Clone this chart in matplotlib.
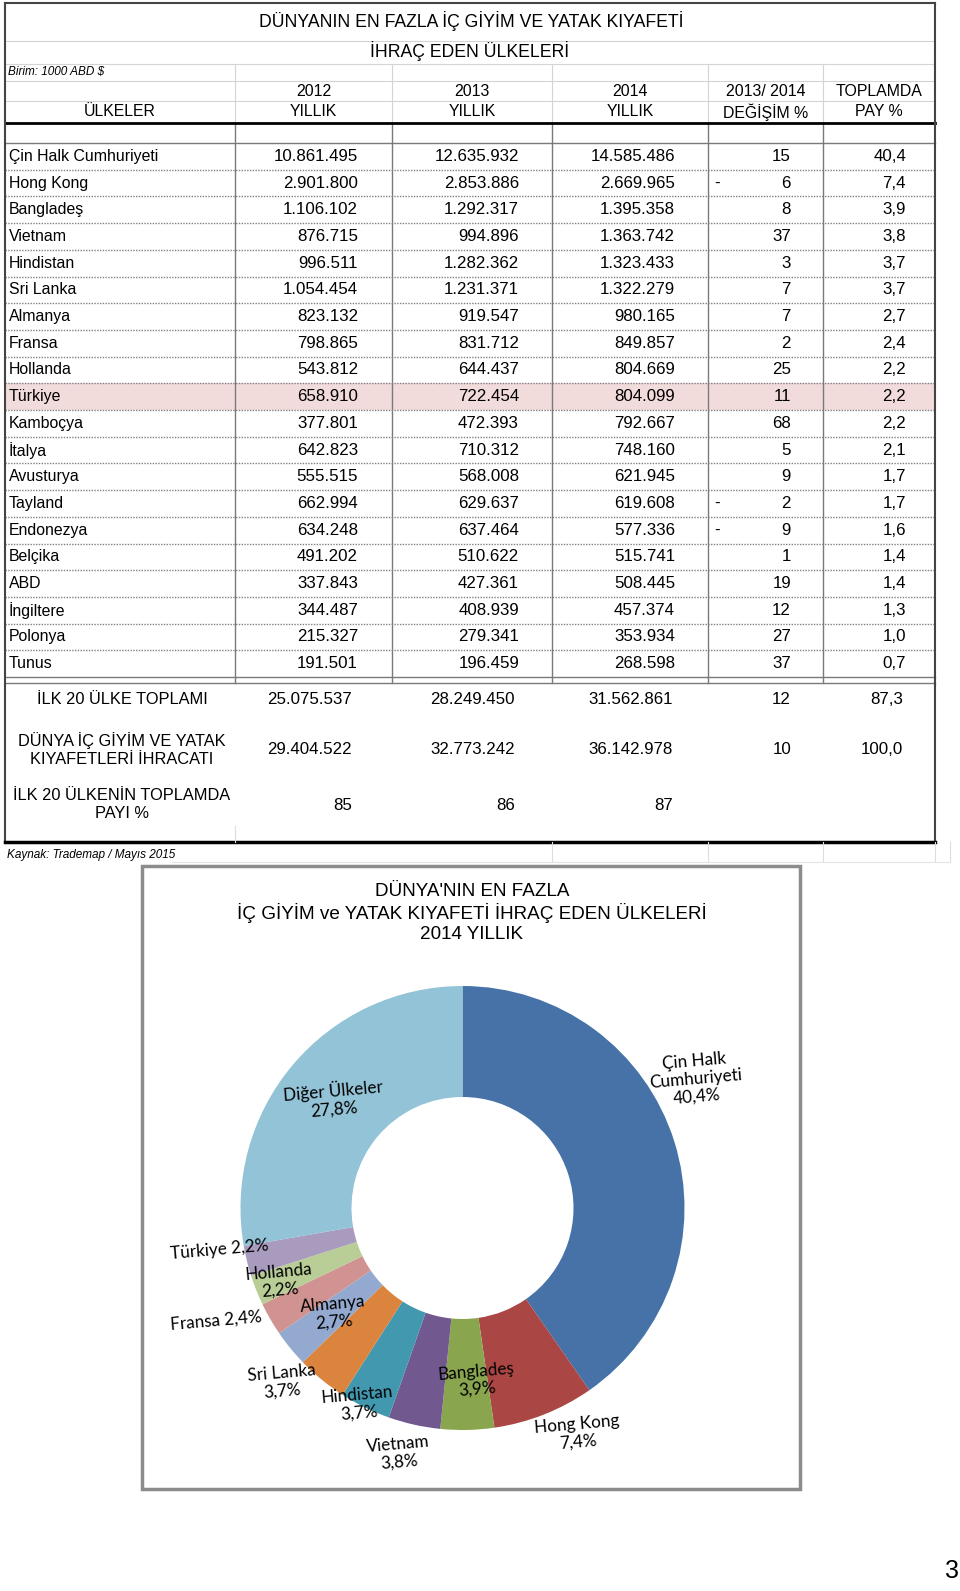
import matplotlib.pyplot as plt
from matplotlib.patches import Rectangle
import numpy as np

plt.rcParams['font.family'] = ['Liberation Sans', 'DejaVu Sans']

# table data (1000 USD)
countries = ['Çin Halk Cumhuriyeti', 'Hong Kong', 'Bangladeş', 'Vietnam', 'Hindistan',
             'Sri Lanka', 'Almanya', 'Fransa', 'Hollanda', 'Türkiye', 'Kamboçya',
             'İtalya', 'Avusturya', 'Tayland', 'Endonezya', 'Belçika', 'ABD',
             'İngiltere', 'Polonya', 'Tunus']
exp_2012 = [10861495, 2901800, 1106102, 876715, 996511, 1054454, 823132, 798865,
            543812, 658910, 377801, 642823, 555515, 662994, 634248, 491202, 337843,
            344487, 215327, 191501]
exp_2013 = [12635932, 2853886, 1292317, 994896, 1282362, 1231371, 919547, 831712,
            644437, 722454, 472393, 710312, 568008, 629637, 637464, 510622, 427361,
            408939, 279341, 196459]
exp_2014 = [14585486, 2669965, 1395358, 1363742, 1323433, 1322279, 980165, 849857,
            804669, 804099, 792667, 748160, 621945, 619608, 577336, 515741, 508445,
            457374, 353934, 268598]
change_pct = [15, -6, 8, 37, 3, 7, 7, 2, 25, 11, 68, 5, 9, -2, -9, 1, 19, 12, 27, 37]
share_pct = [40.4, 7.4, 3.9, 3.8, 3.7, 3.7, 2.7, 2.4, 2.2, 2.2, 2.2, 2.1, 1.7, 1.7,
             1.6, 1.4, 1.4, 1.3, 1.0, 0.7]

total_labels = ['İLK 20 ÜLKE TOPLAMI', 'DÜNYA İÇ GİYİM VE YATAK\nKIYAFETLERİ İHRACATI',
                'İLK 20 ÜLKENİN TOPLAMDA\nPAYI %']
total_2012 = [25075537, 29404522, 85]
total_2013 = [28249450, 32773242, 86]
total_2014 = [31562861, 36142978, 87]
total_change = [12, 10, None]
total_share = [87.3, 100.0, None]

# donut data (2014 share %)
pie_names = ['Çin Halk\nCumhuriyeti', 'Hong Kong', 'Bangladeş', 'Vietnam', 'Hindistan',
             'Sri Lanka', 'Almanya', 'Fransa', 'Hollanda', 'Türkiye', 'Diğer Ülkeler']
pie_pct = [40.4, 7.4, 3.9, 3.8, 3.7, 3.7, 2.7, 2.4, 2.2, 2.2, 27.8]
pie_colors = ['#4672a7', '#aa4643', '#89a54e', '#71588f', '#4198af', '#db843d',
              '#93a9cf', '#d19392', '#b9cd96', '#a99bbd', '#93c3d6']
# label placement: radius factor, angle shift (deg), separator
lab_r = [1.20, 1.14, 0.78, 1.14, 1.00, 1.13, 0.75, 1.22, 0.89, 1.11, 0.76]
lab_dang = [11.5, 5.5, 3.5, -2, -2, -6.7, 0, -5.4, 0, -4, 0]
lab_sep = ['\n', '\n', '\n', '\n', '\n', '\n', '\n', ' ', '\n', ' ', '\n']


def tr_int(v):
    return f"{v:,}".replace(',', '.')


def tr_dec(v):
    return f"{v:.1f}".replace('.', ',')


W, H = 960, 1591
fig = plt.figure(figsize=(W / 100, H / 100), dpi=100)
ax = fig.add_axes([0, 0, 1, 1])
ax.set_xlim(0, W)
ax.set_ylim(H, 0)
ax.axis('off')

L, R_ = 5, 935
cols = [235, 392, 552, 708, 823]
top, hdr_end, data_top = 3, 123, 143
row_h = 26.7
data_bot = data_top + row_h * len(countries)
bottom = 842
fs = 11.4     # text
fn = 12.2     # numbers

# Türkiye highlight
ti = countries.index('Türkiye')
ax.add_patch(Rectangle((L, data_top + ti * row_h), R_ - L, row_h, color='#f2dcdb', lw=0))

# light grid in header
for y in [41, 64, 81, 101]:
    ax.plot([L, R_], [y, y], color='#d4d4d4', lw=0.8)
for x in cols:
    ax.plot([x, x], [64, hdr_end], color='#d4d4d4', lw=0.8)
    ax.plot([x, x], [hdr_end, data_bot + 6], color='#7a7a7a', lw=1)
# row separators
ax.plot([L, R_], [data_top, data_top], color='#7a7a7a', lw=1)
for k in range(1, len(countries)):
    y = data_top + k * row_h
    ax.plot([L, R_], [y, y], color='#808080', lw=1, ls=(0, (1, 1)))
ax.plot([L, R_], [data_bot, data_bot], color='#7a7a7a', lw=1)
ax.plot([L, R_], [data_bot + 6, data_bot + 6], color='#7a7a7a', lw=1)
ax.plot([L, R_], [hdr_end, hdr_end], color='black', lw=2)
# outer frame
ax.plot([L, R_], [top, top], color='#444444', lw=1.5)
ax.plot([L, L], [top, bottom], color='#444444', lw=1.5)
ax.plot([R_, R_], [top, bottom], color='#444444', lw=1.5)
ax.plot([L, R_], [bottom, bottom], color='black', lw=2.5)
# faint sheet grid below table
ax.plot([235, 235], [826, bottom], color='#dddddd', lw=0.8)
for x in [552, 708, 823, 935, 950]:
    ax.plot([x, x], [bottom, 862], color='#dddddd', lw=0.8)
ax.plot([172, 950], [862, 862], color='#e4e4e4', lw=0.8)

# titles
ax.text(471, 21, 'DÜNYANIN EN FAZLA İÇ GİYİM VE YATAK KIYAFETİ', ha='center', va='center', fontsize=12.7)
ax.text(470, 51, 'İHRAÇ EDEN ÜLKELERİ', ha='center', va='center', fontsize=12.7)
ax.text(8, 72, 'Birim: 1000 ABD $', ha='left', va='center', fontsize=8.5, style='italic')

centers = [(L + cols[0]) / 2, (cols[0] + cols[1]) / 2, (cols[1] + cols[2]) / 2,
           (cols[2] + cols[3]) / 2, (cols[3] + cols[4]) / 2, (cols[4] + R_) / 2]
top_hdr = ['', '2012', '2013', '2014', '2013/ 2014', 'TOPLAMDA']
bot_hdr = ['ÜLKELER', 'YILLIK', 'YILLIK', 'YILLIK', 'DEĞİŞİM %', 'PAY %']
for cx, t1, t2 in zip(centers, top_hdr, bot_hdr):
    ax.text(cx, 92, t1, ha='center', va='center', fontsize=fs)
    ax.text(cx, 112, t2, ha='center', va='center', fontsize=fs)

rx = [358, 519, 675, 791, 906]
for i, name in enumerate(countries):
    y = data_top + (i + 0.5) * row_h
    ax.text(9, y, name, ha='left', va='center', fontsize=fs)
    ax.text(rx[0], y, tr_int(exp_2012[i]), ha='right', va='center', fontsize=fn)
    ax.text(rx[1], y, tr_int(exp_2013[i]), ha='right', va='center', fontsize=fn)
    ax.text(rx[2], y, tr_int(exp_2014[i]), ha='right', va='center', fontsize=fn)
    if change_pct[i] < 0:
        ax.text(714, y, '-', ha='left', va='center', fontsize=fn)
    ax.text(rx[3], y, str(abs(change_pct[i])), ha='right', va='center', fontsize=fn)
    ax.text(rx[4], y, tr_dec(share_pct[i]), ha='right', va='center', fontsize=fn)

tot_y = [700, 750, 805]
for j, lab in enumerate(total_labels):
    y = tot_y[j]
    ax.text(122, y, lab, ha='center', va='center', fontsize=fs + 0.4, linespacing=1.25)
    ax.text(rx[0] - 6, y, tr_int(total_2012[j]), ha='right', va='center', fontsize=fn)
    ax.text(rx[1] - 4, y, tr_int(total_2013[j]), ha='right', va='center', fontsize=fn)
    ax.text(rx[2] - 2, y, tr_int(total_2014[j]), ha='right', va='center', fontsize=fn)
    if total_change[j] is not None:
        ax.text(rx[3], y, str(total_change[j]), ha='right', va='center', fontsize=fn)
    if total_share[j] is not None:
        ax.text(rx[4] - 3, y, tr_dec(total_share[j]), ha='right', va='center', fontsize=fn)

ax.text(7, 855, 'Kaynak: Trademap / Mayıs 2015', ha='left', va='center', fontsize=8.5, style='italic')

# chart box
ax.add_patch(Rectangle((142, 866), 658, 623, fill=False, edgecolor='#8c8c8c', lw=2.5))
ax.text(472, 913, "DÜNYA'NIN EN FAZLA\nİÇ GİYİM ve YATAK KIYAFETİ İHRAÇ EDEN ÜLKELERİ\n2014 YILLIK",
        ha='center', va='center', fontsize=13.6, linespacing=1.2)

ax.text(952, 1571, '3', ha='center', va='center', fontsize=18)

# donut
cx, cy, R = 462.5, 1208, 222
pax = fig.add_axes([(cx - R) / W, 1 - (cy + R) / H, 2 * R / W, 2 * R / H])
wedges, _ = pax.pie(pie_pct, colors=pie_colors, startangle=90, counterclock=False,
                    radius=1, wedgeprops=dict(width=0.5, edgecolor='none'))
pax.set_xlim(-1, 1)
pax.set_ylim(-1, 1)
pax.axis('off')
for i, w in enumerate(wedges):
    mid = np.deg2rad((w.theta1 + w.theta2) / 2 + lab_dang[i])
    txt = pie_names[i] + lab_sep[i] + tr_dec(pie_pct[i]) + '%'
    pax.text(lab_r[i] * np.cos(mid), lab_r[i] * np.sin(mid), txt, ha='center', va='center',
             rotation=5, rotation_mode='anchor', fontsize=12.3, family=['Lato', 'DejaVu Sans'],
             linespacing=1.15, color='black')

fig.savefig('out.png', dpi=100)
